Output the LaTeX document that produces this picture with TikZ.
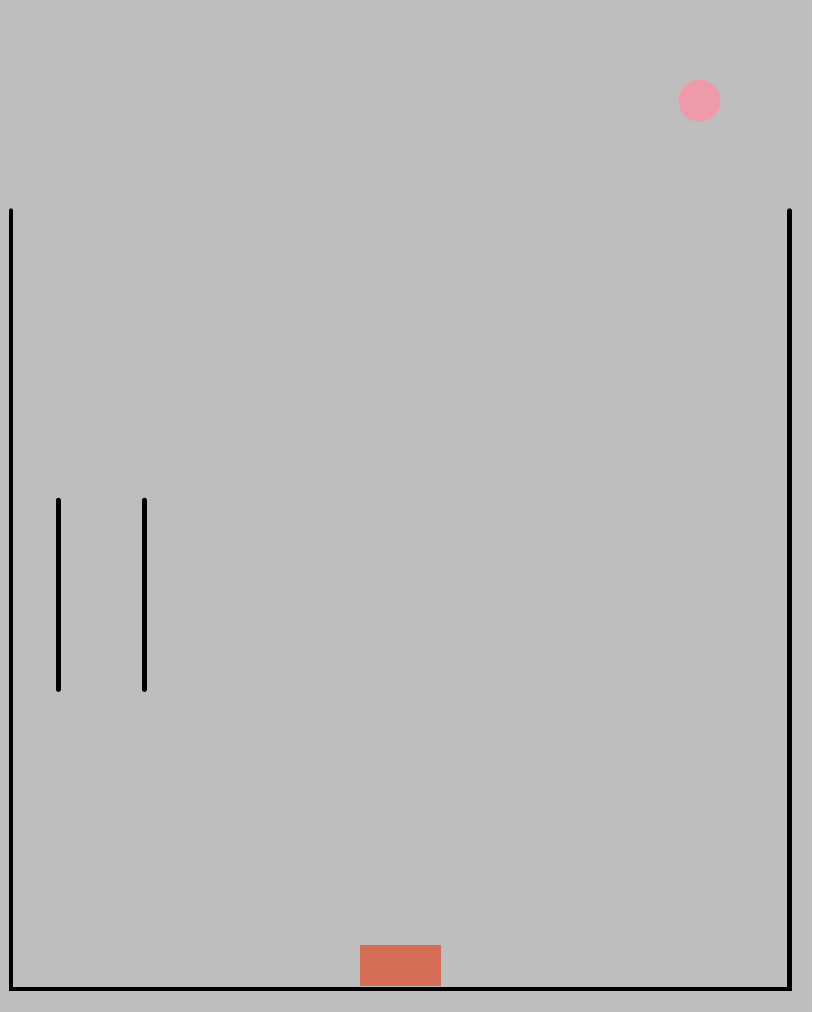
\documentclass[tikz,border=0pt]{standalone}
\usepackage{tikz}
\definecolor{scenebg}{HTML}{BEBEBE}
\definecolor{ballpink}{HTML}{EF9AAB}
\definecolor{padorange}{HTML}{D46D55}

\begin{document}
\begin{tikzpicture}[
  x=1pt, y=-1pt,
  wall/.style={draw=black, line width=4.6pt, line cap=round},
  ball/.style={fill=ballpink, draw=none},
  pad/.style={fill=padorange, draw=none}
]
% background and frame
\fill[scenebg] (-1,-1) rectangle (813,1013);
\useasboundingbox (0,0) rectangle (812,1012);

% container
\draw[wall, line join=miter] (10,210) -- (10,990) -- (790,990) -- (790,210);

% inner posts
\draw[wall] (57.5,500) -- (57.5,690);
\draw[wall] (143.5,500) -- (143.5,690);

% ball and pad
\fill[ball] (700,100) circle[radius=21];
\fill[pad] (360,946) rectangle (441,987);
\end{tikzpicture}
\end{document}
